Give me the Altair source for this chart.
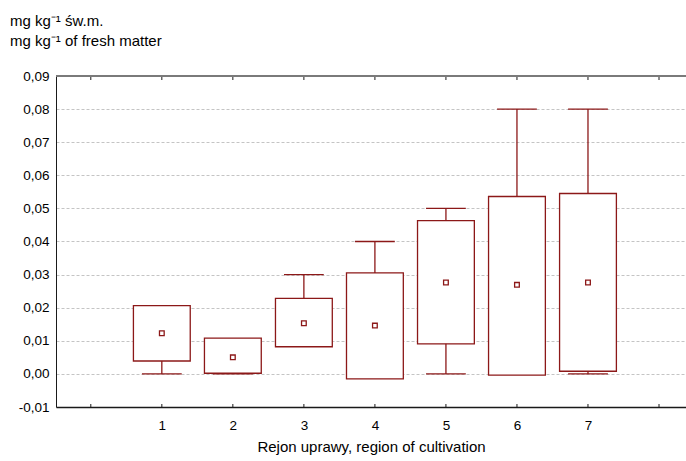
import altair as alt
import pandas as pd

# ---- data ----
regions = [1, 2, 3, 4, 5, 6, 7]
means = [0.0123, 0.0050, 0.0153, 0.0146, 0.0276, 0.0269, 0.0276]
box_low = [0.0039, 0.0002, 0.0082, -0.0015, 0.0091, -0.0004, 0.0008]
box_high = [0.0206, 0.0108, 0.0228, 0.0305, 0.0463, 0.0536, 0.0545]
mins = [0.0, 0.0, 0.01, 0.0, 0.0, 0.0, 0.0]
maxs = [0.02, 0.01, 0.03, 0.04, 0.05, 0.08, 0.08]
tick_positions = [0, 1, 2, 3, 4, 5, 6, 7, 8]
y_ticks = [-0.01, 0.0, 0.01, 0.02, 0.03, 0.04, 0.05, 0.06, 0.07, 0.08, 0.09]
y_title_1 = "mg kg\u207b\u00b9 \u015bw.m."
y_title_2 = "mg kg\u207b\u00b9 of fresh matter"
x_title = "Rejon uprawy, region of cultivation"

df = pd.DataFrame({
    "region": regions, "mean": means, "low": box_low, "high": box_high,
    "min": mins, "max": maxs,
})
ticks_df = pd.DataFrame({"pos": tick_positions})

RED = "#8c1818"
FONT = "Liberation Sans"
W, H = 630, 331
BOX_HALF = 0.40
CAP_HALF = 0.28

xscale = alt.Scale(domain=[-0.49, 8.38], nice=False, zero=False)
yscale = alt.Scale(domain=[-0.01, 0.09], nice=False, zero=False)

xaxis = alt.Axis(
    values=tick_positions, tickCount=len(tick_positions),
    labelExpr="(datum.value >= 1 && datum.value <= 7) ? datum.value : ''",
    ticks=False, grid=False, domainColor="#1a1a1a", domainWidth=1.5,
    labelFont=FONT, labelFontSize=13.5, labelColor="#000", labelPadding=11,
    labelOverlap=False,
    title=x_title, titleFont=FONT, titleFontSize=15, titleFontWeight="normal",
    titleColor="#000", titlePadding=8,
)
yaxis = alt.Axis(
    values=y_ticks, tickCount=len(y_ticks),
    labelExpr="replace(replace(format(datum.value, '.2f'), '.', ','), '\u2212', '-')",
    ticks=False, grid=True, gridColor="#c4c4c4", gridDash=[3, 2], gridWidth=1,
    domainColor="#1a1a1a", domainWidth=1,
    labelFont=FONT, labelFontSize=13.5, labelColor="#000", labelPadding=7,
    labelOverlap=False, labelFlush=False,
    title=None,
)

base = alt.Chart(df).transform_calculate(
    bl=f"datum.region - {BOX_HALF}", br=f"datum.region + {BOX_HALF}",
    cl=f"datum.region - {CAP_HALF}", cr=f"datum.region + {CAP_HALF}",
)

whisker = base.mark_rule(color=RED, strokeWidth=1.3).encode(
    x=alt.X("region:Q", scale=xscale, axis=xaxis),
    y=alt.Y("min:Q", scale=yscale, axis=yaxis),
    y2="max:Q",
)
cap_top = base.mark_rule(color=RED, strokeWidth=1.3).encode(
    x=alt.X("cl:Q", scale=xscale), x2="cr:Q",
    y=alt.Y("max:Q", scale=yscale),
)
cap_bot = base.mark_rule(color=RED, strokeWidth=1.3).encode(
    x=alt.X("cl:Q", scale=xscale), x2="cr:Q",
    y=alt.Y("min:Q", scale=yscale),
)
box = base.mark_rect(fill="white", stroke=RED, strokeWidth=1.3).encode(
    x=alt.X("bl:Q", scale=xscale), x2="br:Q",
    y=alt.Y("low:Q", scale=yscale), y2="high:Q",
)
mean_pt = base.mark_point(shape="square", size=22, filled=False, color=RED,
                          strokeWidth=1.3, opacity=1).encode(
    x=alt.X("region:Q", scale=xscale),
    y=alt.Y("mean:Q", scale=yscale),
)

top_line = alt.Chart(ticks_df).mark_rule(color="#7a7a7a", strokeWidth=2).encode(
    x=alt.value(0), x2=alt.value(W), y=alt.value(0)
)
top_ticks = alt.Chart(ticks_df).mark_rule(color="#1a1a1a", strokeWidth=1).encode(
    x=alt.X("pos:Q", scale=xscale), y=alt.value(1), y2=alt.value(4)
)
bot_ticks = alt.Chart(ticks_df).mark_rule(color="#1a1a1a", strokeWidth=1).encode(
    x=alt.X("pos:Q", scale=xscale), y=alt.value(H), y2=alt.value(H - 3)
)

t1 = alt.Chart(pd.DataFrame({"t": [y_title_1]})).mark_text(
    align="left", baseline="alphabetic", font=FONT, fontSize=15, color="#000"
).encode(text="t:N", x=alt.value(-46), y=alt.value(-50))
t2 = alt.Chart(pd.DataFrame({"t": [y_title_2]})).mark_text(
    align="left", baseline="alphabetic", font=FONT, fontSize=15, color="#000"
).encode(text="t:N", x=alt.value(-46), y=alt.value(-30))

chart = alt.layer(
    whisker, cap_top, cap_bot, box, mean_pt, top_line, top_ticks, bot_ticks, t1, t2
).properties(
    width=W, height=H,
    autosize=alt.AutoSizeParams(type="none"),
    padding={"left": 56, "top": 76, "right": 0, "bottom": 54},
    background="white",
).configure_view(stroke=None)

chart.save("out.html", embed_options={"renderer": "svg", "actions": False})
